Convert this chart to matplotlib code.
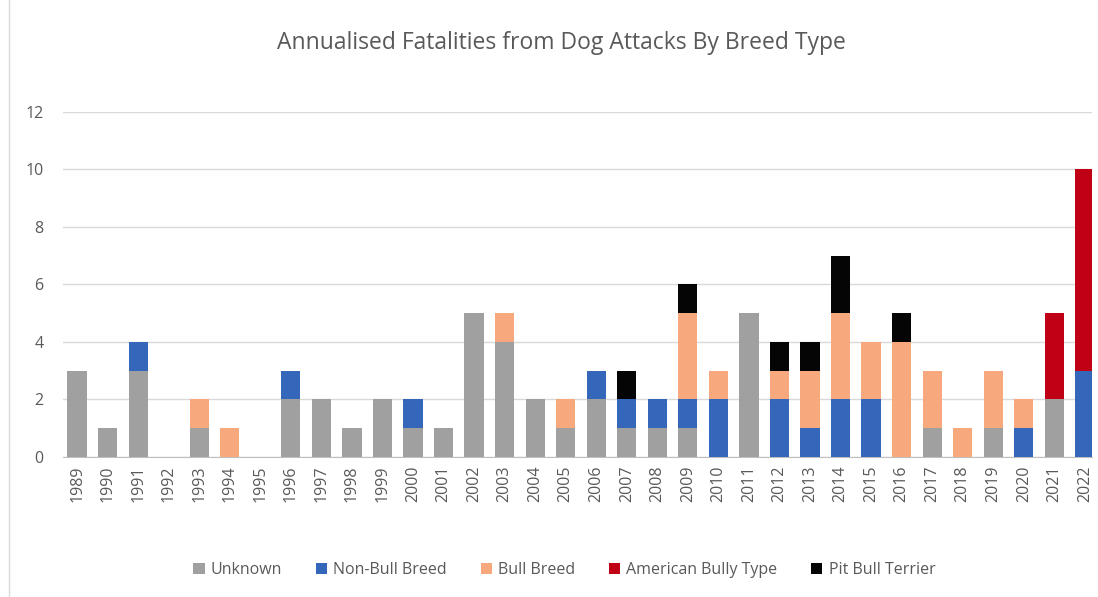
import matplotlib.pyplot as plt
import numpy as np

years = list(range(1989, 2023))
unknown = [3, 1, 3, 0, 1, 0, 0, 2, 2, 1, 2, 1, 1, 5, 4, 2, 1, 2, 1, 1, 1, 0, 5, 0, 0, 0, 0, 0, 1, 0, 1, 0, 2, 0]
non_bull = [0, 0, 1, 0, 0, 0, 0, 1, 0, 0, 0, 1, 0, 0, 0, 0, 0, 1, 1, 1, 1, 2, 0, 2, 1, 2, 2, 0, 0, 0, 0, 1, 0, 3]
bull = [0, 0, 0, 0, 1, 1, 0, 0, 0, 0, 0, 0, 0, 0, 1, 0, 1, 0, 0, 0, 3, 1, 0, 1, 2, 3, 2, 4, 2, 1, 2, 1, 0, 0]
am_bully = [0] * 32 + [3, 7]
pit_bull = [0, 0, 0, 0, 0, 0, 0, 0, 0, 0, 0, 0, 0, 0, 0, 0, 0, 0, 1, 0, 1, 0, 0, 1, 1, 2, 0, 1, 0, 0, 0, 0, 0, 0]

series = [
    ("Unknown", unknown, "#A0A0A0"),
    ("Non-Bull Breed", non_bull, "#3467BA"),
    ("Bull Breed", bull, "#F7A87C"),
    ("American Bully Type", am_bully, "#C00014"),
    ("Pit Bull Terrier", pit_bull, "#050505"),
]

plt.rcParams['font.family'] = ['Open Sans', 'DejaVu Sans']
fig = plt.figure(figsize=(10.98, 5.97), dpi=100)
ax = fig.add_axes([0.0574, 0.2345, 0.937, 0.578])

x = np.arange(len(years))
bottom = np.zeros(len(years))
for name, vals, col in series:
    vals = np.array(vals, dtype=float)
    ax.bar(x, vals, bottom=bottom, width=0.63, color=col, label=name, zorder=3)
    bottom += vals

ax.set_ylim(0, 12)
ax.set_xlim(-0.46, len(years) - 1 + 0.23)
ax.set_yticks(range(0, 13, 2))
ax.yaxis.grid(True, color="#D9D9D9", linewidth=1, zorder=0)
for s in ["top", "right", "left"]:
    ax.spines[s].set_visible(False)
ax.spines["bottom"].set_color("#BFBFBF")
ax.tick_params(axis="both", length=0, colors="#595959", labelsize=11.5)
ax.tick_params(axis="y", pad=14)
ax.tick_params(axis="x", pad=6)
ax.set_xticks(x)
ax.set_xticklabels([str(y) for y in years], rotation=90)

fig.text(0.511, 0.928, "Annualised Fatalities from Dog Attacks By Breed Type",
         ha="center", va="center", fontsize=16.5, color="#595959")

fig.legend(loc="center", bbox_to_anchor=(0.514, 0.045), ncol=5, frameon=False,
           fontsize=11.5, handlelength=0.7, handleheight=0.7, handletextpad=0.4,
           columnspacing=2.1, labelcolor="#595959")

fig.add_artist(plt.Line2D([0.008, 0.008], [0.0, 1.0], color="#D9D9D9", linewidth=1))

fig.savefig("out.png", dpi=100)
